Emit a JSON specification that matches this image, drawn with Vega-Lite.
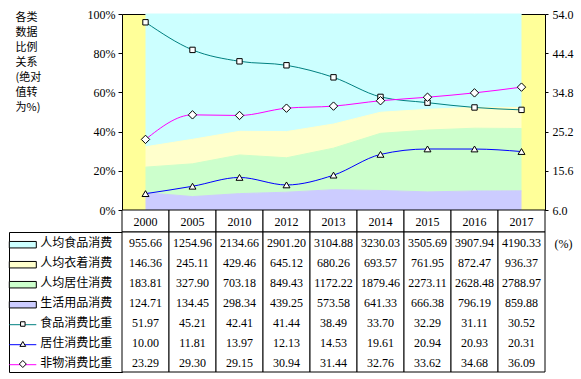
{
  "$schema": "https://vega.github.io/schema/vega-lite/v6.json",
  "padding": {"left": 6, "top": 7, "right": 0, "bottom": 0},
  "background": "white",
  "config": {"view": {"stroke": null}},
  "datasets": {
    "cons": [
      {"year": "2000", "series": "生活用品消费", "value": 124.71},
      {"year": "2005", "series": "生活用品消费", "value": 134.45},
      {"year": "2010", "series": "生活用品消费", "value": 298.34},
      {"year": "2012", "series": "生活用品消费", "value": 439.25},
      {"year": "2013", "series": "生活用品消费", "value": 573.58},
      {"year": "2014", "series": "生活用品消费", "value": 641.33},
      {"year": "2015", "series": "生活用品消费", "value": 666.38},
      {"year": "2016", "series": "生活用品消费", "value": 796.19},
      {"year": "2017", "series": "生活用品消费", "value": 859.88},
      {"year": "2000", "series": "人均居住消费", "value": 183.81},
      {"year": "2005", "series": "人均居住消费", "value": 327.90},
      {"year": "2010", "series": "人均居住消费", "value": 703.18},
      {"year": "2012", "series": "人均居住消费", "value": 849.43},
      {"year": "2013", "series": "人均居住消费", "value": 1172.22},
      {"year": "2014", "series": "人均居住消费", "value": 1879.46},
      {"year": "2015", "series": "人均居住消费", "value": 2273.11},
      {"year": "2016", "series": "人均居住消费", "value": 2628.48},
      {"year": "2017", "series": "人均居住消费", "value": 2788.97},
      {"year": "2000", "series": "人均衣着消费", "value": 146.36},
      {"year": "2005", "series": "人均衣着消费", "value": 245.11},
      {"year": "2010", "series": "人均衣着消费", "value": 429.46},
      {"year": "2012", "series": "人均衣着消费", "value": 645.12},
      {"year": "2013", "series": "人均衣着消费", "value": 680.26},
      {"year": "2014", "series": "人均衣着消费", "value": 693.57},
      {"year": "2015", "series": "人均衣着消费", "value": 761.95},
      {"year": "2016", "series": "人均衣着消费", "value": 872.47},
      {"year": "2017", "series": "人均衣着消费", "value": 936.37},
      {"year": "2000", "series": "人均食品消费", "value": 955.66},
      {"year": "2005", "series": "人均食品消费", "value": 1254.96},
      {"year": "2010", "series": "人均食品消费", "value": 2134.66},
      {"year": "2012", "series": "人均食品消费", "value": 2901.20},
      {"year": "2013", "series": "人均食品消费", "value": 3104.88},
      {"year": "2014", "series": "人均食品消费", "value": 3230.03},
      {"year": "2015", "series": "人均食品消费", "value": 3505.69},
      {"year": "2016", "series": "人均食品消费", "value": 3907.94},
      {"year": "2017", "series": "人均食品消费", "value": 4190.33}
    ],
    "pct": [
      {"year": "2000", "series": "食品消费比重", "value": 51.97},
      {"year": "2005", "series": "食品消费比重", "value": 45.21},
      {"year": "2010", "series": "食品消费比重", "value": 42.41},
      {"year": "2012", "series": "食品消费比重", "value": 41.44},
      {"year": "2013", "series": "食品消费比重", "value": 38.49},
      {"year": "2014", "series": "食品消费比重", "value": 33.70},
      {"year": "2015", "series": "食品消费比重", "value": 32.29},
      {"year": "2016", "series": "食品消费比重", "value": 31.11},
      {"year": "2017", "series": "食品消费比重", "value": 30.52},
      {"year": "2000", "series": "居住消费比重", "value": 10.00},
      {"year": "2005", "series": "居住消费比重", "value": 11.81},
      {"year": "2010", "series": "居住消费比重", "value": 13.97},
      {"year": "2012", "series": "居住消费比重", "value": 12.13},
      {"year": "2013", "series": "居住消费比重", "value": 14.53},
      {"year": "2014", "series": "居住消费比重", "value": 19.61},
      {"year": "2015", "series": "居住消费比重", "value": 20.94},
      {"year": "2016", "series": "居住消费比重", "value": 20.93},
      {"year": "2017", "series": "居住消费比重", "value": 20.31},
      {"year": "2000", "series": "非物消费比重", "value": 23.29},
      {"year": "2005", "series": "非物消费比重", "value": 29.30},
      {"year": "2010", "series": "非物消费比重", "value": 29.15},
      {"year": "2012", "series": "非物消费比重", "value": 30.94},
      {"year": "2013", "series": "非物消费比重", "value": 31.44},
      {"year": "2014", "series": "非物消费比重", "value": 32.76},
      {"year": "2015", "series": "非物消费比重", "value": 33.62},
      {"year": "2016", "series": "非物消费比重", "value": 34.68},
      {"year": "2017", "series": "非物消费比重", "value": 36.09}
    ],
    "years": [
      {"year": "2000"}, {"year": "2005"}, {"year": "2010"}, {"year": "2012"}, {"year": "2013"},
      {"year": "2014"}, {"year": "2015"}, {"year": "2016"}, {"year": "2017"}
    ],
    "series": [
      {"series": "人均食品消费"}, {"series": "人均衣着消费"}, {"series": "人均居住消费"}, {"series": "生活用品消费"},
      {"series": "食品消费比重"}, {"series": "居住消费比重"}, {"series": "非物消费比重"}
    ]
  },
  "columns": 2,
  "spacing": 0,
  "bounds": "flush",
  "align": "each",
  "concat": [
    {"width": 113, "height": 196, "data": {"values": []}, "mark": "point"},
    {
      "width": 423,
      "height": 196,
      "view": {"fill": "#FFFF99", "stroke": "black", "strokeWidth": 1},
      "layer": [
        {
          "data": {"name": "cons"},
          "transform": [{"stack": "value", "groupby": ["year"], "offset": "normalize", "as": ["v0", "v1"]}],
          "mark": {"type": "area", "opacity": 1, "line": {"color": "black", "strokeWidth": 1}},
          "encoding": {
            "x": {"field": "year", "type": "ordinal", "scale": {"type": "point", "padding": 0.5}, "axis": null},
            "y": {
              "field": "v1", "type": "quantitative",
              "scale": {"domain": [0, 1], "nice": false},
              "axis": {
                "orient": "left", "values": [0, 0.2, 0.4, 0.6, 0.8, 1], "format": ".0%", "grid": false, "domain": false,
                "ticks": true, "tickColor": "black", "tickSize": 4, "labelPadding": 3, "labelOverlap": false,
                "labelFont": "Liberation Serif", "labelFontSize": 12, "labelColor": "black",
                "title": ["各类", "数据", "比例", "关系", "(绝对", "值转", "为%)"],
                "titleAngle": 0, "titleX": -107, "titleY": -3, "titleAlign": "left", "titleBaseline": "top",
                "titleFont": "Noto Sans CJK SC", "titleFontSize": 11, "titleFontWeight": "normal", "titleLineHeight": 15, "titleColor": "black"
              }
            },
            "y2": {"field": "v0"},
            "color": {
              "field": "series", "type": "nominal",
              "scale": {"domain": ["人均食品消费", "人均衣着消费", "人均居住消费", "生活用品消费", "食品消费比重", "居住消费比重", "非物消费比重"], "range": ["#CCFFFF", "#FFFFCC", "#CCFFCC", "#CCCCFF", "#008080", "#0000FF", "#FF00FF"]},
              "legend": null
            }
          }
        },
        {
          "data": {"name": "pct"},
          "layer": [
            {
              "mark": {"type": "line", "interpolate": "monotone", "strokeWidth": 1},
              "encoding": {
                "x": {"field": "year", "type": "ordinal", "axis": null},
                "y": {
                  "field": "value", "type": "quantitative",
                  "scale": {"domain": [6, 54], "nice": false, "zero": false},
                  "axis": {
                    "orient": "right", "values": [6, 15.6, 25.2, 34.8, 44.4, 54], "format": ".1f", "grid": false, "domain": false,
                    "ticks": true, "tickColor": "black", "tickSize": 3, "labelPadding": 4, "labelOverlap": false, "labelBound": false,
                    "labelFont": "Liberation Serif", "labelFontSize": 12, "labelColor": "black",
                    "title": "(%)", "titleAngle": 0, "titleX": 9, "titleY": 229, "titleAlign": "left", "titleBaseline": "middle",
                    "titleFont": "Liberation Serif", "titleFontSize": 12, "titleFontWeight": "normal", "titleColor": "black"
                  }
                },
                "color": {
                  "field": "series", "type": "nominal",
                  "scale": {"domain": ["人均食品消费", "人均衣着消费", "人均居住消费", "生活用品消费", "食品消费比重", "居住消费比重", "非物消费比重"], "range": ["#CCFFFF", "#FFFFCC", "#CCFFCC", "#CCCCFF", "#008080", "#0000FF", "#FF00FF"]},
                  "legend": null
                }
              }
            },
            {
              "mark": {"type": "point", "filled": true, "fill": "white", "stroke": "black", "strokeWidth": 1, "size": 36, "opacity": 1},
              "encoding": {
                "x": {"field": "year", "type": "ordinal", "axis": null},
                "y": {
                  "field": "value", "type": "quantitative",
                  "axis": {
                    "orient": "right", "values": [6, 15.6, 25.2, 34.8, 44.4, 54], "format": ".1f", "grid": false, "domain": false,
                    "ticks": true, "tickColor": "black", "tickSize": 3, "labelPadding": 4, "labelOverlap": false, "labelBound": false,
                    "labelFont": "Liberation Serif", "labelFontSize": 12, "labelColor": "black",
                    "title": "(%)", "titleAngle": 0, "titleX": 9, "titleY": 229, "titleAlign": "left", "titleBaseline": "middle",
                    "titleFont": "Liberation Serif", "titleFontSize": 12, "titleFontWeight": "normal", "titleColor": "black"
                  }
                },
                "shape": {"field": "series", "type": "nominal", "scale": {"domain": ["食品消费比重", "居住消费比重", "非物消费比重"], "range": ["M-0.9,-0.9H0.9V0.9H-0.9Z", "M0,-1L1.15,0.95H-1.15Z", "M-1.4,0L0,-1.4L1.4,0L0,1.4Z"]}, "legend": null}
              }
            }
          ]
        }
      ],
      "resolve": {"scale": {"y": "independent"}}
    },
    {"width": 113, "height": 22, "data": {"values": []}, "mark": "point"},
    {
      "width": 423,
      "height": 22,
      "data": {"name": "years"},
      "layer": [
        {
          "mark": {"type": "rect", "fill": "white", "stroke": "black", "strokeWidth": 1},
          "encoding": {"x": {"field": "year", "type": "ordinal", "scale": {"type": "band", "paddingInner": 0, "paddingOuter": 0}, "axis": null}}
        },
        {
          "mark": {"type": "text", "font": "Liberation Serif", "fontSize": 12, "color": "black", "baseline": "middle", "dy": 1},
          "encoding": {"x": {"field": "year", "type": "ordinal", "axis": null}, "text": {"field": "year"}}
        }
      ]
    },
    {
      "width": 113,
      "height": 140,
      "view": {"stroke": "black", "strokeWidth": 1},
      "data": {"name": "series"},
      "layer": [
        {
          "mark": {"type": "text", "align": "left", "baseline": "middle", "font": "Noto Sans CJK SC", "fontSize": 12, "color": "black", "dx": 17.5, "dy": 1},
          "encoding": {
            "x": {"datum": "key", "type": "nominal", "scale": {"type": "point", "domain": ["key", "name"], "padding": 2.7286, "align": 0.1832}, "axis": null},
            "y": {"field": "series", "type": "nominal", "scale": {"domain": ["人均食品消费", "人均衣着消费", "人均居住消费", "生活用品消费", "食品消费比重", "居住消费比重", "非物消费比重"]}, "axis": null},
            "text": {"field": "series"}
          }
        },
        {
          "transform": [{"filter": {"field": "series", "oneOf": ["人均食品消费", "人均衣着消费", "人均居住消费", "生活用品消费"]}}],
          "mark": {"type": "point", "shape": "M-1,-0.04H1V0.44H-1Z", "size": 729, "filled": true, "stroke": "black", "strokeWidth": 1, "opacity": 1},
          "encoding": {
            "x": {"datum": "key", "type": "nominal"},
            "y": {"field": "series", "type": "nominal"},
            "fill": {"field": "series", "type": "nominal", "scale": {"domain": ["人均食品消费", "人均衣着消费", "人均居住消费", "生活用品消费", "食品消费比重", "居住消费比重", "非物消费比重"], "range": ["#CCFFFF", "#FFFFCC", "#CCFFCC", "#CCCCFF", "#008080", "#0000FF", "#FF00FF"]}, "legend": null}
          }
        },
        {
          "transform": [{"filter": {"field": "series", "oneOf": ["食品消费比重", "居住消费比重", "非物消费比重"]}}],
          "mark": {"type": "point", "shape": "M-1,0.2H1", "size": 729, "filled": false, "strokeWidth": 1, "opacity": 1},
          "encoding": {
            "x": {"datum": "key", "type": "nominal"},
            "y": {"field": "series", "type": "nominal"},
            "stroke": {"field": "series", "type": "nominal", "scale": {"domain": ["人均食品消费", "人均衣着消费", "人均居住消费", "生活用品消费", "食品消费比重", "居住消费比重", "非物消费比重"], "range": ["#CCFFFF", "#FFFFCC", "#CCFFCC", "#CCCCFF", "#008080", "#0000FF", "#FF00FF"]}, "legend": null}
          }
        },
        {
          "transform": [{"filter": {"field": "series", "oneOf": ["食品消费比重", "居住消费比重", "非物消费比重"]}}],
          "mark": {"type": "point", "filled": true, "fill": "white", "stroke": "black", "strokeWidth": 1, "size": 25, "opacity": 1, "yOffset": 2},
          "encoding": {
            "x": {"datum": "key", "type": "nominal"},
            "y": {"field": "series", "type": "nominal"},
            "shape": {"field": "series", "type": "nominal", "scale": {"domain": ["食品消费比重", "居住消费比重", "非物消费比重"], "range": ["M-0.9,-0.9H0.9V0.9H-0.9Z", "M0,-1L1.15,0.95H-1.15Z", "M-1.4,0L0,-1.4L1.4,0L0,1.4Z"]}, "legend": null}
          }
        }
      ]
    },
    {
      "width": 423,
      "height": 140,
      "layer": [
        {
          "data": {"name": "years"},
          "mark": {"type": "rect", "fill": "white", "stroke": "black", "strokeWidth": 1},
          "encoding": {"x": {"field": "year", "type": "ordinal", "scale": {"type": "band", "paddingInner": 0, "paddingOuter": 0}, "axis": null}}
        },
        {
          "data": {"name": "cons"},
          "mark": {"type": "text", "font": "Liberation Serif", "fontSize": 12, "color": "black", "baseline": "middle", "dy": 1},
          "encoding": {
            "x": {"field": "year", "type": "ordinal", "axis": null},
            "y": {"field": "series", "type": "nominal", "scale": {"domain": ["人均食品消费", "人均衣着消费", "人均居住消费", "生活用品消费", "食品消费比重", "居住消费比重", "非物消费比重"]}, "axis": null},
            "text": {"field": "value", "type": "quantitative", "format": ".2f"}
          }
        },
        {
          "data": {"name": "pct"},
          "mark": {"type": "text", "font": "Liberation Serif", "fontSize": 12, "color": "black", "baseline": "middle", "dy": 1},
          "encoding": {
            "x": {"field": "year", "type": "ordinal", "axis": null},
            "y": {"field": "series", "type": "nominal", "axis": null},
            "text": {"field": "value", "type": "quantitative", "format": ".2f"}
          }
        }
      ]
    }
  ]
}
